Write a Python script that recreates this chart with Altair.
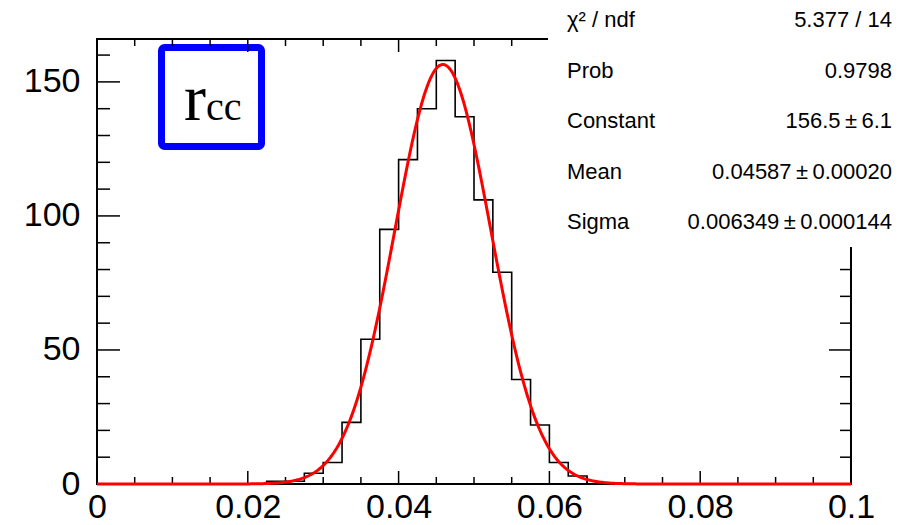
import altair as alt
import pandas as pd

# ---------------- data ----------------
x_min, x_max = 0.0, 0.1
bin_width = 0.0025
counts = [0, 0, 0, 0, 0, 0, 0, 0, 0, 1,
          1, 4, 8, 23, 54, 95, 121, 140, 158, 137,
          106, 79, 39, 22, 8, 3, 0, 0, 0, 0,
          0, 0, 0, 0, 0, 0, 0, 0, 0, 0]

fit_const = 156.5
fit_mean = 0.04587
fit_sigma = 0.006349

stats_labels = ["χ² / ndf", "Prob", "Constant", "Mean", "Sigma"]
stats_values = ["5.377 / 14", "0.9798", "156.5\u2009±\u20096.1",
                "0.04587\u2009±\u20090.00020", "0.006349\u2009±\u20090.000144"]

x_label_vals = [0, 0.02, 0.04, 0.06, 0.08, 0.1]
x_minor_vals = [0.005, 0.01, 0.015, 0.025, 0.03, 0.035, 0.045, 0.05, 0.055,
                0.065, 0.07, 0.075, 0.085, 0.09, 0.095]
y_label_vals = [0, 50, 100, 150]
y_minor_vals = [10, 20, 30, 40, 60, 70, 80, 90, 110, 120, 130, 140, 160]
y_max = 166

# ---------------- layout ----------------
W, H = 754, 445
FONT = "Liberation Sans"

edges = [x_min + i * bin_width for i in range(len(counts) + 1)]
hist_df = pd.DataFrame({"x": edges, "n": counts + [counts[-1]]})
one = pd.DataFrame({"k": [0]})

xscale = alt.Scale(domain=[x_min, x_max], nice=False, zero=False)
yscale = alt.Scale(domain=[0, y_max], nice=False)

xaxis = alt.Axis(values=x_label_vals, format=".2~f", title=None, domain=False,
                 ticks=False, tickSize=0, grid=False, labelFontSize=34,
                 labelFont=FONT, labelColor="black", labelPadding=33,
                 labelBaseline="alphabetic", labelFlush=False, labelOverlap=False)
yaxis = alt.Axis(values=y_label_vals, title=None, domain=False, ticks=False,
                 tickSize=0, grid=False, labelFontSize=34, labelFont=FONT,
                 labelColor="black", labelPadding=17, labelFlush=False,
                 labelOverlap=False)

frame = alt.Chart(one).mark_rect(filled=False, stroke="black", strokeWidth=2).encode(
    x=alt.value(0), x2=alt.value(W), y=alt.value(0), y2=alt.value(H))

blue_box = alt.Chart(one).mark_rect(filled=False, stroke="#0000ff", strokeWidth=7,
                                    cornerRadius=3).encode(
    x=alt.value(64.5), x2=alt.value(164.5), y=alt.value(8.5), y2=alt.value(107.5))


def vticks(vals, y0, y1):
    return alt.Chart(pd.DataFrame({"v": vals})).mark_rule(
        color="black", strokeWidth=1.5).encode(
        x=alt.X("v:Q", scale=xscale), y=alt.value(y0), y2=alt.value(y1))


def hticks(vals, x0, x1):
    return alt.Chart(pd.DataFrame({"v": vals})).mark_rule(
        color="black", strokeWidth=1.5).encode(
        y=alt.Y("v:Q", scale=yscale), x=alt.value(x0), x2=alt.value(x1))


ticks = [
    vticks(x_label_vals, H, H - 13), vticks(x_minor_vals, H, H - 7),
    vticks(x_label_vals, 0, 13), vticks(x_minor_vals, 0, 7),
    hticks(y_label_vals, 0, 23), hticks(y_minor_vals, 0, 13),
    hticks(y_label_vals, W, W - 22), hticks(y_minor_vals, W, W - 11),
]

hist = alt.Chart(hist_df).mark_line(interpolate="step-after", color="black",
                                    strokeWidth=1.6).encode(
    x=alt.X("x:Q", scale=xscale, axis=xaxis),
    y=alt.Y("n:Q", scale=yscale, axis=yaxis))

curve = alt.Chart(alt.sequence(x_min, x_max + 0.00001, 0.0002, as_="x")).transform_calculate(
    g=f"{fit_const}*exp(-0.5*pow((datum.x-{fit_mean})/{fit_sigma},2))"
).mark_line(color="#ff0000", strokeWidth=3).encode(
    x=alt.X("x:Q", scale=xscale), y=alt.Y("g:Q", scale=yscale))

stats_box = alt.Chart(one).mark_rect(fill="white").encode(
    x=alt.value(451), x2=alt.value(830), y=alt.value(-45), y2=alt.value(208))

stats_layers = []
row_top, row_step = -19, 50.5
for i, (lab, val) in enumerate(zip(stats_labels, stats_values)):
    yy = row_top + i * row_step
    stats_layers.append(alt.Chart(one).mark_text(
        text=lab, align="left", baseline="middle", font=FONT, fontSize=22,
        color="black").encode(x=alt.value(470), y=alt.value(yy)))
    stats_layers.append(alt.Chart(one).mark_text(
        text=val, align="right", baseline="middle", font=FONT, fontSize=22,
        color="black").encode(x=alt.value(795), y=alt.value(yy)))

r_text = alt.Chart(one).mark_text(text="r", align="left", baseline="alphabetic",
                                  font="Liberation Serif", fontSize=66,
                                  color="black").encode(x=alt.value(87), y=alt.value(81))
cc_text = alt.Chart(one).mark_text(text="cc", align="left", baseline="alphabetic",
                                   font="Liberation Serif", fontSize=40,
                                   color="black").encode(x=alt.value(109), y=alt.value(81))

chart = alt.layer(
    hist, frame, blue_box, *ticks, curve, stats_box, *stats_layers, r_text, cc_text
).properties(
    width=W, height=H,
    autosize=alt.AutoSizeParams(type="none"),
    padding={"left": 89, "top": 31, "right": 48, "bottom": 41},
    background="white",
).configure_view(strokeWidth=0)

chart.save("out.html", embed_options={"renderer": "svg", "actions": False})
